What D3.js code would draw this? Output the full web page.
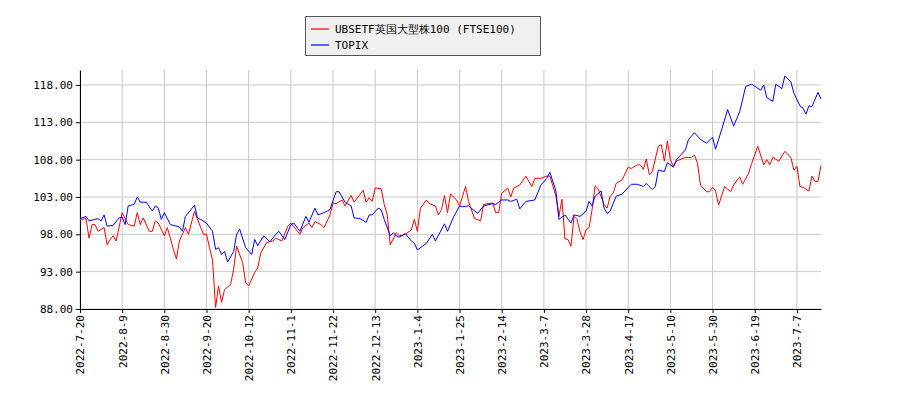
<!DOCTYPE html>
<html>
<head>
<meta charset="utf-8">
<script src="https://cdn.jsdelivr.net/npm/d3@7"></script>
<style>
body { margin: 0; background: #fff; }
text { font-family: "DejaVu Sans Mono", monospace; font-size: 11px; fill: #000; }
</style>
</head>
<body>
<svg id="chart" width="900" height="400"></svg>
<script>
// x is trading-day index, ticks every 14 trading days
let tickLabels = ["2022-7-20","2022-8-9","2022-8-30","2022-9-20","2022-10-12","2022-11-1",
    "2022-11-22","2022-12-13","2023-1-4","2023-1-25","2023-2-14","2023-3-7",
    "2023-3-28","2023-4-17","2023-5-10","2023-5-30","2023-6-19","2023-7-7"];
let yTicks = [88, 93, 98, 103, 108, 113, 118];

// [trading day index, value]
let ftse = [[0,100.0],[2,100.1],[3,97.5],[4,99.3],[5,99.3],[6,98.4],[8,98.9],[9,96.6],[10,97.3],
    [11,97.8],[12,97.1],[14,100.9],[16,99.3],[18,99.1],[19,100.9],[20,99.3],[21,100.2],[23,98.4],
    [24,98.4],[25,99.8],[26,99.5],[28,97.8],[29,98.9],[31,96.0],[32,94.7],[33,97.1],[35,98.9],
    [36,98.0],[38,101.1],[39,100.0],[41,98.0],[42,98.0],[43,96.2],[44,94.6],[45,88.2],[46,91.1],
    [47,88.9],[48,90.6],[50,91.3],[51,93.3],[52,96.4],[54,94.2],[55,91.5],[56,91.1],[58,92.9],
    [59,93.5],[60,95.5],[62,96.9],[64,97.1],[65,97.5],[67,97.1],[69,99.1],[70,99.5],[73,98.0],
    [74,98.9],[76,99.5],[77,98.9],[78,99.7],[80,99.3],[81,98.9],[83,100.6],[84,102.2],[85,102.1],
    [87,102.6],[88,101.8],[90,103.2],[91,102.3],[94,103.9],[95,102.3],[96,102.9],[97,102.4],
    [98,104.2],[100,104.1],[101,102.0],[102,100.6],[103,96.6],[105,98.2],[106,97.8],[108,98.0],
    [110,98.6],[111,100.0],[112,98.4],[113,101.5],[115,102.6],[116,102.1],[118,101.8],[119,100.6],
    [120,101.3],[121,103.2],[122,100.9],[123,103.4],[125,102.6],[126,101.8],[127,103.1],[128,104.4],
    [129,102.4],[131,100.1],[133,99.8],[134,102.0],[137,102.2],[138,100.9],[139,100.9],[140,103.5],
    [142,104.2],[143,103.0],[144,104.2],[146,104.6],[148,105.8],[150,104.4],[151,105.5],[153,105.5],
    [155,105.8],[156,105.8],[158,103.1],[159,100.4],[160,102.7],[161,97.4],[162,97.3],[163,96.4],
    [164,100.4],[165,100.0],[166,98.3],[167,97.3],[168,98.6],[169,98.9],[170,101.3],[171,104.5],
    [172,104.1],[174,102.0],[175,101.5],[176,103.1],[177,103.5],[178,104.8],[180,105.3],[182,107.0],
    [183,106.8],[185,107.3],[186,107.3],[187,106.7],[188,108.1],[189,106.0],[190,106.4],[192,109.8],
    [193,110.0],[194,107.8],[195,110.5],[196,108.0],[197,107.1],[198,107.8],[201,108.3],[203,108.3],
    [204,108.6],[205,107.5],[206,104.6],[208,103.7],[209,103.7],[210,104.3],[211,103.8],[212,101.9],
    [214,104.4],[216,103.7],[217,104.6],[219,105.7],[220,104.7],[222,106.2],[223,107.5],[225,109.8],
    [227,107.3],[228,108.0],[229,107.3],[230,108.3],[232,107.8],[234,109.1],[236,108.3],[237,106.6],
    [238,107.1],[239,104.4],[240,104.3],[242,103.8],[243,105.8],[244,105.1],[245,105.1],[246,107.2]];

let topix = [[0,100.1],[2,100.4],[3,99.8],[6,100.1],[7,99.8],[8,100.6],[9,99.1],[11,99.2],[13,100.2],
    [14,100.3],[15,99.3],[16,101.8],[18,102.0],[19,103.0],[20,102.3],[22,102.3],[24,101.1],[25,101.8],
    [26,101.5],[27,100.0],[28,100.9],[30,99.3],[33,99.0],[34,98.4],[35,100.4],[38,101.9],[39,100.2],
    [40,100.0],[42,99.5],[44,98.4],[45,96.0],[46,96.2],[47,95.3],[48,95.7],[49,94.3],[51,95.7],
    [52,98.0],[53,98.7],[55,96.2],[57,95.3],[58,97.3],[59,96.5],[61,97.8],[63,97.0],[65,98.0],
    [66,98.4],[68,97.3],[70,99.3],[71,99.5],[73,98.4],[75,100.4],[76,99.6],[78,101.5],[79,100.6],
    [81,100.9],[83,101.3],[85,103.7],[86,103.7],[88,102.3],[90,101.8],[91,100.2],[93,100.1],
    [95,99.6],[96,100.6],[97,100.6],[99,101.5],[100,101.3],[101,100.0],[103,97.8],[104,98.2],
    [105,97.8],[106,97.6],[108,98.1],[110,97.1],[111,96.8],[112,95.9],[115,96.8],[117,98.0],
    [118,97.1],[121,99.4],[122,98.4],[124,100.3],[126,101.8],[127,101.7],[129,101.8],[132,100.8],
    [134,101.8],[137,102.1],[138,102.0],[140,102.6],[142,102.6],[143,102.4],[145,102.7],[146,101.4],
    [148,102.4],[151,102.6],[153,104.6],[155,105.5],[156,106.3],[158,103.8],[159,100.0],[161,100.6],
    [163,99.5],[164,100.6],[166,100.4],[168,101.1],[169,102.4],[170,101.8],[171,103.1],[173,103.8],
    [174,101.5],[175,100.8],[176,101.1],[178,103.1],[180,103.4],[183,104.7],[185,104.7],[187,104.4],
    [188,104.8],[190,104.0],[191,104.4],[192,106.6],[194,106.4],[195,107.6],[197,107.0],[198,108.0],
    [201,109.3],[202,110.7],[204,111.6],[206,110.7],[208,110.2],[210,111.0],[211,109.4],[213,112.0],
    [215,114.7],[217,112.5],[219,114.4],[221,117.8],[223,118.1],[226,117.3],[227,118.0],[228,116.3],
    [230,115.8],[231,118.1],[233,117.5],[234,119.2],[236,118.4],[237,116.9],[239,115.2],[240,114.9],
    [241,114.1],[242,115.2],[243,115.1],[245,117.0],[246,116.1]];

let seriesNames = ["UBSETF英国大型株100 (FTSE100)", "TOPIX"];
let seriesColors = ["#ff0000", "#0000ff"];

let plotLeft = 80, plotRight = 821, plotTop = 70, plotBottom = 309;
let svg = d3.select("#chart");
let x = d3.scaleLinear().domain([0, 246]).range([plotLeft, plotRight]);
let y = d3.scaleLinear().domain([88, 120]).range([plotBottom, plotTop]);

// grid
let grid = svg.append("g").attr("stroke", "#c8c8c8").attr("stroke-width", 1);
tickLabels.forEach((t, i) => {
    grid.append("line").attr("x1", x(i * 14)).attr("x2", x(i * 14))
        .attr("y1", plotTop).attr("y2", plotBottom);
});
yTicks.forEach(v => {
    grid.append("line").attr("x1", plotLeft).attr("x2", plotRight)
        .attr("y1", y(v)).attr("y2", y(v));
});

// axes
let xAxis = d3.axisBottom(x)
    .tickValues(tickLabels.map((t, i) => i * 14))
    .tickFormat((d, i) => tickLabels[i])
    .tickSize(4).tickSizeOuter(0);
svg.append("g").attr("transform", `translate(0,${plotBottom})`).call(xAxis)
    .call(g => g.selectAll("text")
        .attr("transform", "rotate(-90)")
        .attr("text-anchor", "end")
        .attr("x", -6).attr("y", 0).attr("dy", "0.35em"));
let yAxis = d3.axisLeft(y).tickValues(yTicks).tickFormat(d3.format(".2f"))
    .tickSize(4).tickSizeOuter(0);
svg.append("g").attr("transform", `translate(${plotLeft},0)`).call(yAxis);
svg.selectAll(".domain").attr("stroke", "#000");
svg.selectAll(".tick text").style("font-family", "DejaVu Sans Mono").style("font-size", "11px");

// lines
let line = d3.line().x(d => x(d[0])).y(d => y(d[1]));
[ftse, topix].forEach((s, i) => {
    svg.append("path").datum(s).attr("fill", "none")
        .attr("stroke", seriesColors[i]).attr("stroke-width", 1).attr("d", line);
});

// legend
let legend = svg.append("g");
legend.append("rect").attr("x", 305.5).attr("y", 16.5).attr("width", 235).attr("height", 39)
    .attr("fill", "#f0f0f0").attr("stroke", "#555");
seriesNames.forEach((n, i) => {
    let ly = 29 + i * 16;
    legend.append("line").attr("x1", 311).attr("x2", 329).attr("y1", ly).attr("y2", ly)
        .attr("stroke", seriesColors[i]).attr("stroke-width", 1.2);
    legend.append("text").attr("x", 335).attr("y", ly).attr("dy", "0.35em").text(n);
});
</script>
</body>
</html>
